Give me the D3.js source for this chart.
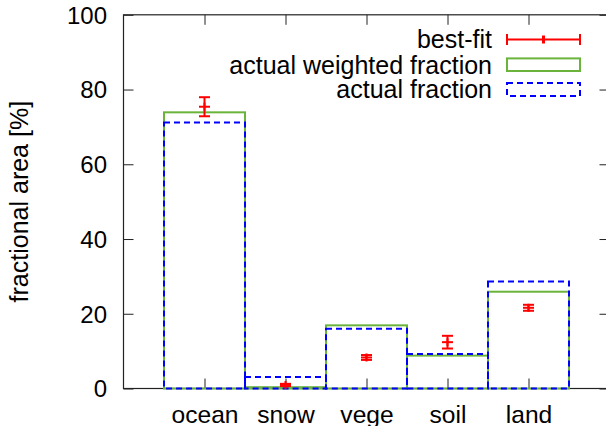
<!DOCTYPE html>
<html>
<head>
<meta charset="utf-8">
<script src="https://cdn.jsdelivr.net/npm/d3@7"></script>
<style>
  html, body { margin: 0; padding: 0; background: #fff; }
  svg { display: block; }
  text { font-family: "Liberation Sans", Arial, Helvetica, sans-serif; fill: #000; }
</style>
</head>
<body>
<svg id="chart" width="606" height="426"></svg>
<script>
const categories = ["ocean", "snow", "vege", "soil", "land"];
const bestFit = [75.4, 0.95, 8.3, 12.4, 21.6];
const bestFitErr = [2.55, 0.3, 0.65, 1.7, 0.8];
const weightedFraction = [73.9, 0.35, 16.9, 8.8, 25.9];
const actualFraction = [71.2, 3.1, 16.0, 9.2, 28.6];
const yTicks = [0, 20, 40, 60, 80, 100];
const legendLabels = ["best-fit", "actual weighted fraction", "actual fraction"];

const RED = "#ff0000", GREEN = "#6ab43c", BLUE = "#0000ff";
const FS = 24, FS_LEG = 25, FS_X = 24.6;

const svg = d3.select("#chart");
const L = 123.5, R = 609.5, T = 14.8, B = 388.5;

const x = d3.scaleLinear().domain([-1, 5]).range([L, R]);
const y = d3.scaleLinear().domain([0, 100]).range([B, T]);
const idx = categories.map((d, i) => i);

// axes (ticks inward, mirrored)
const gL = svg.append("g").attr("transform", `translate(${L},0)`)
  .call(d3.axisLeft(y).tickValues(yTicks).tickSize(-10).tickSizeOuter(0).tickPadding(16.5).tickFormat(d3.format("d")));
const gR = svg.append("g").attr("transform", `translate(${R},0)`)
  .call(d3.axisRight(y).tickValues(yTicks).tickSize(-10).tickSizeOuter(0).tickFormat(""));
const gB = svg.append("g").attr("transform", `translate(0,${B})`)
  .call(d3.axisBottom(x).tickValues(idx).tickSize(-10).tickSizeOuter(0).tickFormat(i => categories[i]));
const gT = svg.append("g").attr("transform", `translate(0,${T})`)
  .call(d3.axisTop(x).tickValues(idx).tickSize(-10).tickSizeOuter(0).tickFormat(""));

[gL, gR, gB, gT].forEach(g => {
  g.select(".domain").remove();
  g.selectAll(".tick line").attr("stroke", "#222").attr("stroke-width", 1);
  g.selectAll("text").style("font-size", FS + "px").attr("fill", "#000");
});
gL.selectAll(".tick text").attr("dy", "0.35em");
gB.selectAll(".tick text").attr("y", 422.5 - B).attr("dy", 0).style("font-size", FS_X + "px");

// border
svg.append("rect").attr("x", L).attr("y", T).attr("width", R - L).attr("height", B - T)
  .attr("fill", "none").attr("stroke", "#222").attr("stroke-width", 1.2);

// y-axis title
svg.append("text").attr("transform", `translate(28,${(T + B) / 2}) rotate(-90)`)
  .attr("text-anchor", "middle").style("font-size", FS_LEG + "px").text("fractional area [%]");

// bars: actual weighted fraction (green solid)
svg.append("g").selectAll("rect").data(weightedFraction).join("rect")
  .attr("x", (d, i) => x(i - 0.5)).attr("width", (d, i) => x(i + 0.5) - x(i - 0.5))
  .attr("y", d => y(d)).attr("height", d => y(0) - y(d))
  .attr("fill", "none").attr("stroke", GREEN).attr("stroke-width", 2);

// bars: actual fraction (blue dashed)
svg.append("g").selectAll("rect").data(actualFraction).join("rect")
  .attr("x", (d, i) => x(i - 0.5)).attr("width", (d, i) => x(i + 0.5) - x(i - 0.5))
  .attr("y", d => y(d)).attr("height", d => y(0) - y(d))
  .attr("fill", "none").attr("stroke", BLUE).attr("stroke-width", 2).attr("stroke-dasharray", "6,4");

// best-fit error bars
const eb = svg.append("g").attr("stroke", RED).attr("stroke-width", 2).attr("fill", "none");
const capW = 5.5;
bestFit.forEach((v, i) => {
  const cx = x(i), e = bestFitErr[i];
  eb.append("line").attr("x1", cx).attr("x2", cx).attr("y1", y(v - e)).attr("y2", y(v + e));
  eb.append("line").attr("x1", cx - capW).attr("x2", cx + capW).attr("y1", y(v - e)).attr("y2", y(v - e));
  eb.append("line").attr("x1", cx - capW).attr("x2", cx + capW).attr("y1", y(v + e)).attr("y2", y(v + e));
  eb.append("line").attr("x1", cx - capW).attr("x2", cx + capW).attr("y1", y(v)).attr("y2", y(v));
  eb.append("line").attr("x1", cx).attr("x2", cx).attr("y1", y(v) - 4).attr("y2", y(v) + 4);
});

// legend
const lgTextX = 492, sx1 = 507, sx2 = 580;
const rowCenters = [39.5, 64.7, 89.5];
legendLabels.forEach((lab, k) => {
  svg.append("text").attr("x", lgTextX).attr("y", rowCenters[k] + 8.8)
    .attr("text-anchor", "end").style("font-size", FS_LEG + "px").text(lab);
});
const lg = svg.append("g");
{
  const cy = rowCenters[0];
  const g = lg.append("g").attr("stroke", RED).attr("stroke-width", 2);
  g.append("line").attr("x1", sx1).attr("x2", sx2).attr("y1", cy).attr("y2", cy);
  g.append("line").attr("x1", sx1).attr("x2", sx1).attr("y1", cy - 5.5).attr("y2", cy + 5.5);
  g.append("line").attr("x1", sx2).attr("x2", sx2).attr("y1", cy - 5.5).attr("y2", cy + 5.5);
  const mx = (sx1 + sx2) / 2;
  g.append("line").attr("x1", mx).attr("x2", mx).attr("y1", cy - 4).attr("y2", cy + 4).attr("stroke-width", 3);
}
lg.append("rect").attr("x", sx1).attr("y", rowCenters[1] - 6.3).attr("width", sx2 - sx1).attr("height", 12.6)
  .attr("fill", "none").attr("stroke", GREEN).attr("stroke-width", 2);
lg.append("rect").attr("x", sx1).attr("y", rowCenters[2] - 6.5).attr("width", sx2 - sx1).attr("height", 13)
  .attr("fill", "none").attr("stroke", BLUE).attr("stroke-width", 2).attr("stroke-dasharray", "6,4");
</script>
</body>
</html>
